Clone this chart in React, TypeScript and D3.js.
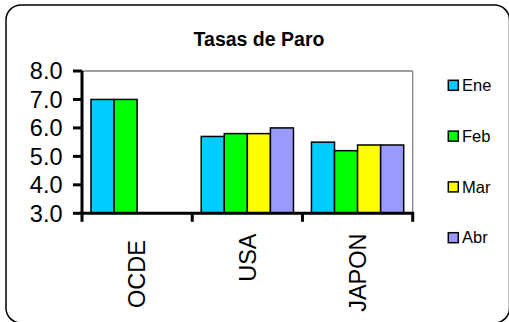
import React from "react";
import * as d3 from "d3";

const categories = ["OCDE ", "USA", "JAPON"];
const seriesNames = ["Ene", "Feb", "Mar", "Abr"];
const ene = [7.0, 5.7, 5.5];
const feb = [7.0, 5.8, 5.2];
const mar = [null, 5.8, 5.4];
const abr = [null, 6.0, 5.4];
const seriesValues: (number | null)[][] = [ene, feb, mar, abr];
const seriesColors = ["#00CCFF", "#00FF00", "#FFFF00", "#9999FF"];
const yTicks = [3, 4, 5, 6, 7, 8];
const title = "Tasas de Paro";

const W = 509;
const H = 322;
const plot = { left: 82, right: 412.7, top: 71, bottom: 213.3 };
const FONT = "'Liberation Sans', Arial, Helvetica, sans-serif";

export default function App() {
  const x = d3.scaleBand<string>().domain(categories).range([plot.left, plot.right]).padding(0);
  const xi = d3
    .scaleBand<string>()
    .domain(seriesNames)
    .range([0, x.bandwidth()])
    .paddingInner(0)
    .paddingOuter(0.39);
  const y = d3.scaleLinear().domain([3, 8]).range([plot.bottom, plot.top]);

  const catBoundaries = categories.map((c) => x(c)!).concat([plot.right]);

  return (
    <svg
      width={W}
      height={H}
      style={{ position: "absolute", left: 0, top: 0, background: "#fff" }}
      fontFamily={FONT}
    >
      <rect x={6} y={5} width={503.5} height={318} rx={15} ry={15} fill="#fff" stroke="#000" strokeWidth={1.5} />
      <text x={259} y={46} textAnchor="middle" fontSize={19.5} fontWeight="bold" fill="#000">
        {title}
      </text>

      <line x1={plot.left} x2={plot.right} y1={plot.top} y2={plot.top} stroke="#808080" strokeWidth={1.3} />
      <line x1={plot.right} x2={plot.right} y1={plot.top} y2={plot.bottom} stroke="#808080" strokeWidth={1.3} />

      {categories.map((c, ci) =>
        seriesNames.map((s, si) => {
          const v = seriesValues[si][ci];
          if (v == null) return null;
          const bx = x(c)! + xi(s)!;
          return (
            <rect
              key={c + s}
              x={bx}
              y={y(v)}
              width={xi.bandwidth()}
              height={y(3) - y(v)}
              fill={seriesColors[si]}
              stroke="#000"
              strokeWidth={1.5}
            />
          );
        })
      )}

      <line x1={plot.left} x2={plot.left} y1={plot.top} y2={plot.bottom + 1.5} stroke="#000" strokeWidth={3} />
      {yTicks.map((t) => (
        <g key={t}>
          <line x1={73} x2={plot.left} y1={y(t)} y2={y(t)} stroke="#000" strokeWidth={3} />
          <text x={62.5} y={y(t)} dy="0.35em" textAnchor="end" fontSize={23.5} fill="#000">
            {d3.format(".1f")(t)}
          </text>
        </g>
      ))}

      <line x1={plot.left - 1.5} x2={plot.right + 1.5} y1={plot.bottom} y2={plot.bottom} stroke="#000" strokeWidth={3} />
      {catBoundaries.map((bx, i) => (
        <line key={i} x1={bx} x2={bx} y1={plot.bottom} y2={plot.bottom + 8.5} stroke="#000" strokeWidth={3} />
      ))}
      {categories.map((c) => (
        <text
          key={c}
          transform={`translate(${x(c)! + x.bandwidth() / 2},233.5) rotate(-90)`}
          dy="0.35em"
          textAnchor="end"
          fontSize={23.5}
          fill="#000"
          style={{ whiteSpace: "pre" }}
        >
          {c}
        </text>
      ))}

      {seriesNames.map((s, i) => {
        const cy = 85.3 + i * 50.8;
        return (
          <g key={s}>
            <rect x={448.3} y={cy - 5} width={10} height={10} fill={seriesColors[i]} stroke="#000" strokeWidth={1.5} />
            <text x={462} y={cy} dy="0.35em" fontSize={16.5} fill="#000">
              {s}
            </text>
          </g>
        );
      })}
    </svg>
  );
}
